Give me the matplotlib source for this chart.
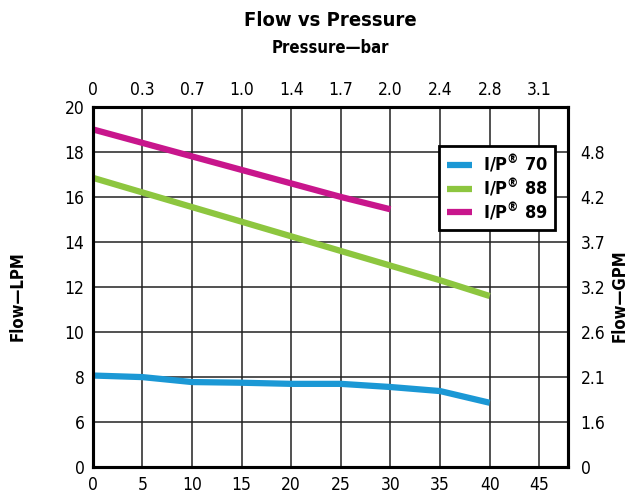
import matplotlib.pyplot as plt

plt.rcParams['font.family'] = ['DejaVu Sans']
plt.rcParams['font.stretch'] = 'condensed'
plt.rcParams['mathtext.default'] = 'regular'

# pressure in psi (bottom axis)
psi = [0, 5, 10, 15, 20, 25, 30, 35, 40]
ip70 = [8.07, 8.0, 7.78, 7.75, 7.7, 7.7, 7.56, 7.38, 6.86]
ip88 = [16.85, 16.2, 15.55, 14.9, 14.25, 13.6, 12.95, 12.3, 11.6]
psi89 = [0, 5, 10, 15, 20, 25, 30]
ip89 = [19.0, 18.4, 17.8, 17.2, 16.6, 16.0, 15.45]

bar_ticks = ["0", "0.3", "0.7", "1.0", "1.4", "1.7", "2.0", "2.4", "2.8", "3.1"]
# axis is broken: bottom "0" sits where 4 LPM would be
lpm_pos = [4, 6, 8, 10, 12, 14, 16, 18, 20]
lpm_labels = ["0", "6", "8", "10", "12", "14", "16", "18", "20"]
gpm_pos = [4, 6, 8, 10, 12, 14, 16, 18]
gpm_labels = ["0", "1.6", "2.1", "2.6", "3.2", "3.7", "4.2", "4.8"]

fig = plt.figure(figsize=(6.27, 4.97), dpi=100)
ax = fig.add_axes([0.148, 0.060, 0.758, 0.725])

ax.plot(psi, ip70, color="#1b98d5", lw=4.5, label="I/P$^{\u00ae}$ 70", solid_capstyle="butt")
ax.plot(psi, ip88, color="#8dc63f", lw=4.5, label="I/P$^{\u00ae}$ 88", solid_capstyle="butt")
ax.plot(psi89, ip89, color="#c8168c", lw=4.5, label="I/P$^{\u00ae}$ 89", solid_capstyle="butt")

ax.set_xlim(0, 47.9)
ax.set_ylim(4, 20)
ax.set_xticks(range(0, 50, 5))
ax.set_yticks(lpm_pos)
ax.set_yticklabels(lpm_labels)
ax.grid(True, color="#222222", lw=1.1)
ax.set_axisbelow(True)
ax.tick_params(length=0, labelsize=12.5, pad=6)
for s in ax.spines.values():
    s.set_linewidth(2.2)

top = ax.twiny()
top.set_xlim(ax.get_xlim())
top.set_xticks(range(0, 50, 5))
top.set_xticklabels(bar_ticks)
top.tick_params(length=0, labelsize=12.5, pad=6)
for s in top.spines.values():
    s.set_linewidth(2.2)

right = ax.twinx()
right.set_ylim(ax.get_ylim())
right.set_yticks(gpm_pos)
right.set_yticklabels(gpm_labels)
right.tick_params(length=0, labelsize=12.5, pad=9)

fig.text(0.527, 0.958, "Flow vs Pressure", ha="center", va="center",
         fontsize=14.5, fontweight="bold")
fig.text(0.527, 0.903, "Pressure\u2014bar", ha="center", va="center",
         fontsize=12, fontweight="bold")
fig.text(0.028, 0.405, "Flow\u2014LPM", ha="center", va="center",
         rotation=90, fontsize=12, fontweight="bold")
fig.text(0.988, 0.405, "Flow\u2014GPM", ha="center", va="center",
         rotation=90, fontsize=12, fontweight="bold")

leg = ax.legend(loc="upper right", bbox_to_anchor=(0.973, 0.892),
                borderaxespad=0,
                prop={"weight": "bold", "size": 13, "stretch": "condensed"},
                handlelength=1.4, handletextpad=0.6, fancybox=False,
                framealpha=1, edgecolor="black", borderpad=0.4,
                labelspacing=0.1)
leg.get_frame().set_linewidth(2)

fig.savefig("out.png", dpi=100)
